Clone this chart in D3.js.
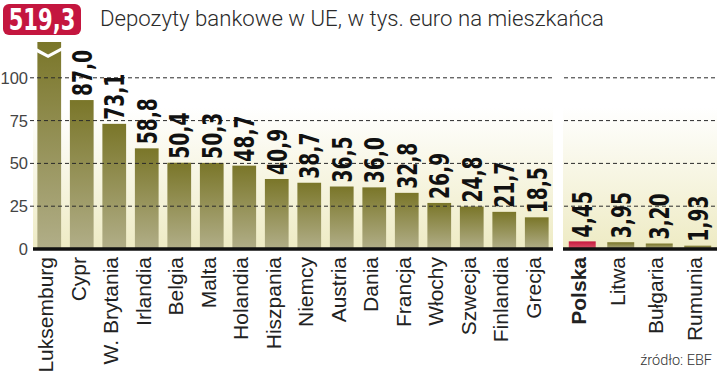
<!DOCTYPE html>
<html>
<head>
<meta charset="utf-8">
<script src="https://cdn.jsdelivr.net/npm/d3@7"></script>
<style>
  body { margin: 0; background: #fff; }
  svg { display: block; }
</style>
</head>
<body>
<div id="chart"></div>
<script>
// EU countries (left panel) and the four lowest (right panel)
const euCountries = ["Luksemburg", "Cypr", "W. Brytania", "Irlandia", "Belgia", "Malta", "Holandia",
    "Hiszpania", "Niemcy", "Austria", "Dania", "Francja", "Włochy", "Szwecja", "Finlandia", "Grecja"];
const euValues = [519.3, 87.0, 73.1, 58.8, 50.4, 50.3, 48.7, 40.9, 38.7, 36.5, 36.0, 32.8, 26.9, 24.8, 21.7, 18.5];

const lowCountries = ["Polska", "Litwa", "Bułgaria", "Rumunia"];
const lowValues = [4.45, 3.95, 3.20, 1.93];

const yTicks = [0, 25, 50, 75, 100];

const TITLE = "Depozyty bankowe w UE, w tys. euro na mieszkańca";
const SOURCE = "źródło: EBF";

const W = 720, H = 376;
const baseY = 249, topY = 77.8;
const capY = 42; // where the off-scale bar is cut

const svg = d3.select("#chart").append("svg")
    .attr("width", W)
    .attr("height", H);

const defs = svg.append("defs");

const bg = defs.append("linearGradient")
    .attr("id", "bg-grad").attr("x1", 0).attr("y1", 0).attr("x2", 0).attr("y2", 1);
bg.append("stop").attr("offset", "0%").attr("stop-color", "#ffffff");
bg.append("stop").attr("offset", "25%").attr("stop-color", "#ffffff");
bg.append("stop").attr("offset", "100%").attr("stop-color", "#eeebc4");

const barGrad = defs.append("linearGradient")
    .attr("id", "bar-grad").attr("x1", 0).attr("y1", 0).attr("x2", 0).attr("y2", 1);
barGrad.append("stop").attr("offset", "0%").attr("stop-color", "#7a7629");
barGrad.append("stop").attr("offset", "100%").attr("stop-color", "#b1ae88");

const redGrad = defs.append("linearGradient")
    .attr("id", "red-grad").attr("x1", 0).attr("y1", 0).attr("x2", 0).attr("y2", 1);
redGrad.append("stop").attr("offset", "0%").attr("stop-color", "#c8183f");
redGrad.append("stop").attr("offset", "100%").attr("stop-color", "#d95a6c");

const y = d3.scaleLinear().domain([0, 100]).range([baseY, topY]);

const xLeft = d3.scaleBand().domain(euCountries).range([33, 553])
    .paddingInner(0.27).paddingOuter(0.135);
const xRight = d3.scaleBand().domain(lowCountries).range([563, 717])
    .paddingInner(0.3).paddingOuter(0.15);

const panels = [
    { x: xLeft, names: euCountries, values: euValues, x0: 33, x1: 553, fmt: ".1f" },
    { x: xRight, names: lowCountries, values: lowValues, x0: 563, x1: 717, fmt: ".2f" }
];

const comma = (f) => (v) => d3.format(f)(v).replace(".", ",");

// backgrounds
panels.forEach(p => {
    svg.append("rect")
        .attr("x", p.x0).attr("y", 60)
        .attr("width", p.x1 - p.x0).attr("height", baseY - 60)
        .attr("fill", "url(#bg-grad)");
});

// bars
panels.forEach(p => {
    const data = p.names.map((n, i) => ({ name: n, value: p.values[i] }));
    svg.append("g").selectAll("rect")
        .data(data)
        .join("rect")
        .attr("x", d => p.x(d.name))
        .attr("width", p.x.bandwidth())
        .attr("y", d => Math.max(capY, y(d.value)))
        .attr("height", d => baseY - Math.max(capY, y(d.value)))
        .attr("fill", d => d.name === "Polska" ? "url(#red-grad)" : "url(#bar-grad)");
});

// break mark on the off-scale bar
{
    const bx = xLeft(euCountries[0]), bw = xLeft.bandwidth();
    const mx = bx + bw * 0.45;
    svg.append("path")
        .attr("d", `M${bx - 1},48 L${mx},54.5 L${bx + bw + 1},47 L${bx + bw + 1},50.5 L${mx},58 L${bx - 1},52 Z`)
        .attr("fill", "#fff");
}

// gridlines
panels.forEach((p, pi) => {
    svg.append("g").selectAll("line")
        .data(yTicks.filter(t => t > 0))
        .join("line")
        .attr("x1", pi === 0 ? 30 : p.x0 + 1)
        .attr("x2", p.x1)
        .attr("y1", d => y(d)).attr("y2", d => y(d))
        .attr("stroke", "#2a2a2a")
        .attr("stroke-width", 1)
        .attr("stroke-dasharray", "4,3");
});

// baseline
panels.forEach(p => {
    svg.append("line")
        .attr("x1", p.x0).attr("x2", p.x1)
        .attr("y1", baseY).attr("y2", baseY)
        .attr("stroke", "#111").attr("stroke-width", 3.5);
});

// y tick labels
svg.append("g").selectAll("text")
    .data(yTicks)
    .join("text")
    .attr("x", 28)
    .attr("y", d => y(d))
    .attr("dy", "0.36em")
    .attr("text-anchor", "end")
    .attr("font-family", "'Liberation Sans', Arial, sans-serif")
    .attr("font-size", 16.5)
    .attr("fill", "#444")
    .text(d => d);

// value labels
panels.forEach(p => {
    const data = p.names.map((n, i) => ({ name: n, value: p.values[i] }));
    svg.append("g").selectAll("text")
        .data(data.filter(d => y(d.value) > capY))
        .join("text")
        .attr("transform", d => `translate(${p.x(d.name) + p.x.bandwidth() / 2 + 10},${y(d.value) - 4}) rotate(-90) scale(0.8,1)`)
        .attr("font-family", "'DejaVu Sans Condensed', 'DejaVu Sans', sans-serif")
        .attr("font-stretch", "condensed")
        .attr("font-weight", "bold")
        .attr("font-size", 26)
        .attr("fill", "#111")
        .text(d => comma(p.fmt)(d.value));
});

// category labels
panels.forEach(p => {
    svg.append("g").selectAll("text")
        .data(p.names)
        .join("text")
        .attr("transform", d => `translate(${p.x(d) + p.x.bandwidth() / 2 + 4},257) rotate(-90)`)
        .attr("text-anchor", "end")
        .attr("font-family", "'Liberation Sans', Arial, sans-serif")
        .attr("font-weight", d => d === "Polska" ? 700 : 400)
        .attr("font-size", 21)
        .attr("fill", "#222")
        .text(d => d);
});

// off-scale value in red box
svg.append("rect")
    .attr("x", 3).attr("y", 4).attr("width", 78).attr("height", 31)
    .attr("rx", 6)
    .attr("fill", "#c4163f");
svg.append("text")
    .attr("transform", "translate(42,30) scale(0.78,1)")
    .attr("text-anchor", "middle")
    .attr("font-family", "'DejaVu Sans Condensed', 'DejaVu Sans', sans-serif")
    .attr("font-stretch", "condensed")
    .attr("font-weight", "bold")
    .attr("font-size", 30)
    .attr("fill", "#fff")
    .text(comma(".1f")(euValues[0]));

// title
svg.append("text")
    .attr("x", 100).attr("y", 26)
    .attr("font-family", "Roboto, 'Liberation Sans', sans-serif")
    .attr("font-weight", 300)
    .attr("font-size", 22.2)
    .attr("fill", "#2a2a2a")
    .text(TITLE);

// source
svg.append("text")
    .attr("x", 712).attr("y", 365)
    .attr("text-anchor", "end")
    .attr("font-family", "Roboto, 'Liberation Sans', sans-serif")
    .attr("font-weight", 300)
    .attr("font-size", 14.5)
    .attr("fill", "#333")
    .text(SOURCE);
</script>
</body>
</html>
